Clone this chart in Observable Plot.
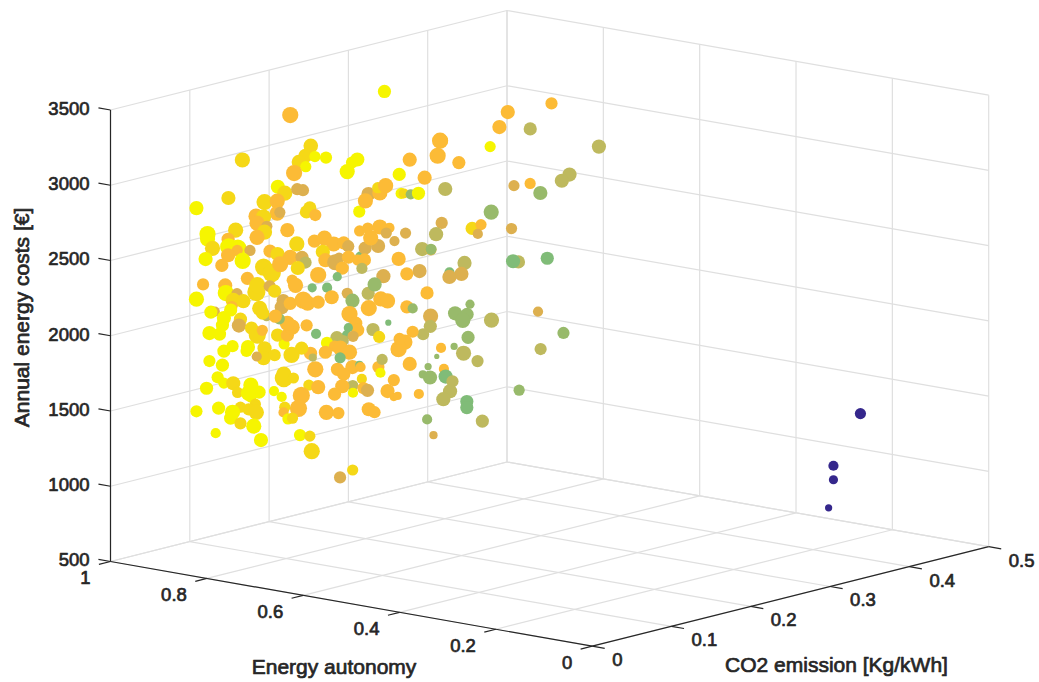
<!DOCTYPE html>
<html><head><meta charset="utf-8">
<script src="https://cdn.jsdelivr.net/npm/d3@7"></script>
<script src="https://cdn.jsdelivr.net/npm/@observablehq/plot@0.6"></script>
<style>html,body{margin:0;padding:0;background:#fff}svg{display:block}</style>
</head><body><div id="chart"></div>
<script>
const autonomyTicks=[0,0.2,0.4,0.6,0.8,1];
const co2Ticks=[0,0.1,0.2,0.3,0.4,0.5];
const costTicks=[500,1000,1500,2000,2500,3000,3500];
const toneColours=["#F6F500","#F5D817","#FCBB36","#DDB04F","#BEB95E","#98BA6B","#80BC78","#35278C"];
const autonomy=[
.777,.775,.825,.683,.694,.625,.602,.708,.644,.767,
.537,.548,.558,.450,.702,.737,.810,.798,.854,.871,
.779,.802,.802,.846,.846,.781,.844,.873,.779,.844,
.781,.685,.692,.723,.533,.662,.619,.589,.544,.577,
.446,.848,.848,.839,.887,.904,.804,.785,.885,.908,
.904,.852,.775,.917,.781,.764,.864,.956,.817,.752,
.775,.796,.712,.800,.842,.710,.725,.704,.685,.664,
.704,.658,.702,.731,.723,.667,.654,.827,.669,.642,
.635,.621,.725,.631,.614,.589,.569,.625,.608,.608,
.550,.717,.875,.771,.631,.910,.810,.871,.935,.844,
.823,.796,.794,.867,.758,.839,.842,.775,.764,.927,
.896,.748,.739,.717,.689,.706,.712,.748,.794,.612,
.587,.573,.652,.639,.635,.852,.856,.702,.769,.541,
.694,.777,.764,.919,.600,.683,.702,.671,.652,.869,
.646,.677,.664,.829,.629,.592,.683,.489,.577,.744,
.623,.664,.667,.683,.546,.560,.573,.560,.552,.602,
.723,.733,.827,.702,.973,.723,.689,.752,.781,.771,
.781,.946,.741,.923,.806,.789,.783,.829,.931,.896,
.800,.981,.841,.814,.817,.844,.823,.806,.794,.833,
.796,.814,.764,.767,.779,.781,.758,.894,.844,.817,
.827,.814,.844,.850,.835,.758,.762,.741,.710,.694,
.758,.798,.829,.812,.796,.796,.800,.825,.871,.829,
.752,.831,.737,.739,.739,.719,.687,.717,.752,.758,
.737,.789,.681,.721,.700,.675,.612,.600,.656,.685,
.681,.596,.721,.491,.533,.669,.533,.583,.598,.521,
.581,.556,.565,.550,.456,.554,.583,.619,.462,.514,
.485,.537,.550,.548,.527,.637,.456,.648,.633,.650,
.537,.542,.556,.606,.606,.475,.639,.527,.448,.354,
.310,.508,.356,.529,.521,.489,.425,.360,.233,.460,
.464,.469,.425,.527,.496,.552,.490,.673,.410,.294,
.310,.277,.360,.404,.506,.510,.585,.571,.348,.379,
.435,.365,.600,.483,.631,.400,.510,.439,.512,.642,
.469,.494,.556,.533,.184,.240,.240,.250];
const co2=[
.21,.09,.06,.06,.06,.03,.03,.06,.03,.09,
.03,.03,.03,.03,.03,.06,.12,.12,.06,.03,
.06,.09,.09,.12,.09,.06,.09,.12,.06,.09,
.09,.06,.06,.09,.03,.12,.09,.09,.06,.09,
.03,.03,.03,.06,.06,.09,.03,.03,.09,.12,
.09,.03,.03,.09,.06,.06,.09,.09,.09,.06,
.09,.09,.06,.12,.15,.06,.09,.09,.09,.09,
.12,.06,.09,.12,.12,.09,.09,.21,.12,.12,
.09,.09,.15,.09,.09,.09,.09,.12,.09,.12,
.09,.09,.21,.09,.12,.09,.03,.03,.12,.06,
.06,.06,.06,.12,.06,.12,.12,.09,.09,.21,
.21,.09,.09,.09,.09,.12,.15,.18,.18,.09,
.09,.09,.09,.09,.09,.21,.21,.15,.21,.06,
.12,.15,.15,.21,.03,.09,.09,.09,.09,.21,
.09,.09,.09,.21,.09,.09,.15,.03,.06,.15,
.09,.12,.09,.09,.03,.09,.09,.09,.09,.12,
.09,.09,.15,.06,.21,.06,.03,.06,.09,.09,
.09,.18,.09,.15,.09,.06,.06,.06,.12,.09,
.03,.12,.03,.03,.03,.03,.03,.06,.06,.09,
.03,.03,.03,.03,.06,.06,.06,.12,.03,.03,
.03,.03,.06,.03,.06,.03,.03,.03,.03,.03,
.03,.06,.06,.06,.06,.03,.03,.03,.03,.06,
.03,.03,.03,.06,.06,.06,.06,.09,.09,.09,
.06,.09,.03,.06,.09,.09,.09,.09,.03,.06,
.06,.06,.12,.09,.09,.18,.12,.15,.15,.09,
.18,.18,.18,.18,.15,.18,.18,.18,.09,.15,
.15,.09,.09,.09,.09,.18,.09,.18,.18,.21,
.15,.15,.15,.21,.21,.15,.18,.12,.18,.15,
.12,.09,.18,.27,.21,.18,.18,.09,.15,.09,
.09,.09,.09,.09,.09,.15,.06,.18,.03,.15,
.15,.09,.12,.18,.18,.12,.12,.15,.06,.09,
.12,.12,.15,.09,.18,.15,.21,.21,.15,.21,
.12,.12,.12,.09,.45,.45,.45,.45];
const annualCost=[
3471,3474,3187,3361,3289,3362,3368,3240,3284,3093,
3392,3366,3300,3342,3118,3017,2922,2922,2918,2881,
2933,2887,2807,2748,2762,2833,2717,2640,2734,2623,
2706,2947,2917,2839,3048,2973,2992,3061,3161,3116,
3218,2722,2689,2713,2565,2576,2661,2664,2513,2460,
2470,2553,2584,2395,2500,2470,2339,2247,2546,2603,
2529,2471,2693,2475,2377,2534,2665,2697,2668,2687,
2603,2671,2551,2481,2513,2518,2598,2345,2610,2639,
2589,2598,2404,2785,2814,2835,2840,2735,2752,2691,
2645,2444,2185,2379,2445,2266,2351,2276,2158,2244,
2250,2326,2373,2245,2353,2166,2119,2223,2349,2082,
2100,2259,2244,2264,2312,2289,2245,2245,2111,2283,
2358,2353,2221,2168,2124,1859,1809,2011,1939,2171,
2010,1915,1903,1781,2138,1990,1939,1984,1968,1649,
1872,1840,1815,1626,1882,1903,1823,2002,1872,1615,
1745,1668,1733,1671,1837,1834,1754,1721,1733,1970,
1814,1915,1754,2006,1623,1949,2081,2065,2008,2067,
2087,1905,2096,1972,2120,2222,2193,2127,1948,2134,
2244,2012,2207,2183,2134,2066,2071,2080,2041,2011,
2006,1963,2018,1990,1962,1895,1928,1763,1880,1868,
1782,1750,1693,1696,1637,1769,1713,1731,1756,1726,
1689,1580,1542,1537,1527,1567,1525,1578,1531,1435,
1499,1408,1415,1812,1786,1798,1769,1699,1624,1535,
1594,1490,1587,1530,1541,1550,1611,1598,1494,1431,
1333,1256,1057,2452,2336,2130,2235,2099,2038,2177,
2147,2154,2109,2225,2212,2002,1926,1839,2103,1959,
1923,2100,2046,2114,1960,1762,1967,1703,1691,1648,
1760,1691,1630,1507,1467,1530,1409,1447,1711,2077,
2390,1771,2143,3452,3478,3436,3460,3498,3490,3481,
3479,3376,3355,3317,3215,3029,3153,2886,3239,3270,
3220,3300,3199,3046,2862,2867,2757,2718,3001,2969,
2836,2911,2603,2743,2544,2630,2493,2553,2560,2345,
2551,2517,2521,2555,1347,969,876,684];
const magnitude=[
6,7.5,7,6.7,6.5,5,5.5,6.5,5,7.5,
6.5,5.5,7,6,6.5,7,5.5,5.5,6.5,6.5,
7.5,7,7,5,7,7,7,5,7,7,
6.5,6,6,5.5,5.5,6.5,7,7,5,7,
5,7.5,7,7,7,6,8,8,5,5,
6.5,6.5,7.5,6,8,8.5,6,5.5,6,6.5,
7,7.5,7,6,5.5,6.5,6,7,7,6,
5.5,6.5,6.5,7.5,5,6,6,4.5,6,6.5,
5,6,5,5,5,7,4.5,5,7,4.5,
6.5,7.5,4,5,6.5,6.5,7.5,7,5,7,
6.5,8.5,7.5,5.5,6,6,6.5,6,7,4,
4.5,8,7,6,6.5,5,6,6.5,6.5,7.5,
7,7,7.5,6,6,4,4,6,2.5,5.5,
5,6,5,4.5,5.5,5,6,7,7,5,
6.5,6,6,3.5,4.5,5.5,5,4.5,4.5,5,
5.5,6,6.5,6,4.5,5.5,6.5,3.5,3.5,6,
7.5,6,3.5,6,4,7.5,5,6,6,7,
7,5,5.5,4,6,7,6,6,6.5,5,
6,4.5,6,6.5,6,6.5,6,6,8,5,
5.5,6,6.5,5.5,6.5,6.5,5.5,4.5,5.5,6,
5.5,5,6.5,6,5,7,7.5,6,4.5,4.5,
5,5,5,5.5,7,7,6,6,5.5,5.5,
7,4.5,6.5,7,8.5,5,5,6.5,8,8,
5,4.5,5,5,7,5.5,6.5,5.5,5.5,5,
7.5,5,5.5,6,6,4.5,7,6,5.5,5.5,
6.5,6,7,4,7,6,3,2,4.5,7,
5.5,7,7.5,5.5,6.5,3,4.5,3.5,6.5,6.5,
5.5,6.5,6.5,6,6,6,4.5,3.5,5,5.5,
4.5,4.5,5.5,5.5,6.5,6.5,6,5,6.5,5.5,
7.5,7.5,6,6.5,6.5,6.5,4.5,4.5,6,6.5,
6.5,5,5,6.5,7,5.5,5,6.5,6,5,
4.5,5,6.5,5,5,6,6.5,6,6.5,4.5,
6.5,6.5,6.5,6,5,4.5,4,3];
const tone=[
1,3,2,2,2,1,1,2,1,3,
1,1,1,1,1,2,4,4,2,1,
2,3,3,4,3,2,3,4,2,3,
3,2,2,3,1,4,3,3,2,3,
1,1,1,2,2,3,1,1,3,4,
3,1,1,3,2,2,3,3,3,2,
3,3,2,4,5,2,3,3,3,3,
4,2,3,4,4,3,3,7,4,4,
3,3,5,3,3,3,3,4,3,4,
3,3,7,3,4,3,1,1,4,2,
2,2,2,4,2,4,4,3,3,7,
7,3,3,3,3,4,5,6,6,3,
3,3,3,3,3,7,7,5,7,2,
4,5,5,7,1,3,3,3,3,7,
3,3,3,7,3,3,5,1,2,5,
3,4,3,3,1,3,3,3,3,4,
3,3,5,2,7,2,1,2,3,3,
3,6,3,5,3,2,2,2,4,3,
1,4,1,1,1,1,1,2,2,3,
1,1,1,1,2,2,2,4,1,1,
1,1,2,1,2,1,1,1,1,1,
1,2,2,2,2,1,1,1,1,2,
1,1,1,2,2,2,2,3,3,3,
2,3,1,2,3,3,3,3,1,2,
2,2,4,3,3,6,4,5,5,3,
6,6,6,6,5,6,6,6,3,5,
5,3,3,3,3,6,3,6,6,7,
5,5,5,7,7,5,6,4,6,5,
4,3,6,3,3,3,5,1,5,2,
3,3,3,3,3,5,2,6,1,5,
5,3,4,6,6,4,4,5,2,3,
4,4,5,3,6,5,7,7,5,7,
4,4,4,3,8,8,8,8];

// Orthographic view of the 3-D axes box, used as the plane for Plot's x and y scales.
const viewX=(a,c)=>591.7-481.7*a+793*c;
const viewY=(a,c,e)=>645.7-84.7*a-199*c-0.1505*(e-500);
const P=(a,c,e)=>({x:viewX(a,c),y:viewY(a,c,e)});
const seg=(p,q)=>({x1:p.x,y1:p.y,x2:q.x,y2:q.y});

const grid=[];
for(const c of co2Ticks){
  grid.push(seg(P(1,c,500),P(1,c,3500)));
  grid.push(seg(P(1,c,500),P(0,c,500)));
}
for(const a of autonomyTicks){
  grid.push(seg(P(a,0.5,500),P(a,0.5,3500)));
  grid.push(seg(P(a,0,500),P(a,0.5,500)));
}
for(const e of costTicks){
  grid.push(seg(P(1,0,e),P(1,0.5,e)));
  grid.push(seg(P(1,0.5,e),P(0,0.5,e)));
}
const axes=[
  seg(P(1,0,500),P(1,0,3500)),
  seg(P(1,0,500),P(0,0,500)),
  seg(P(0,0,500),P(0,0.5,500)),
  ...costTicks.map(e=>seg(P(1,0,e),P(1.025,0,e))),
  ...autonomyTicks.map(a=>seg(P(a,0,500),P(a,-0.0146,500))),
  ...co2Ticks.map(c=>seg(P(0,c,500),P(-0.026,c,500))),
];
const pts=autonomy.map((a,i)=>({...P(a,co2[i],annualCost[i]),m:magnitude[i],t:tone[i]}));

const font={fontFamily:"'Liberation Sans',Arial,sans-serif",fill:"#262626",stroke:"#262626",strokeWidth:0.7};
const tickFont={...font,fontSize:18.5};
const labelFont={...font,fontSize:21};

const costLabels=costTicks.map(e=>({...P(1,0,e),s:String(e)}));
const autoLabels=autonomyTicks.map(a=>({...P(a,0,500),s:String(a)}));
const co2Labels=co2Ticks.map(c=>({...P(0,c,500),s:String(c)}));

const chart=Plot.plot({
  width:1039,height:682,
  marginLeft:0,marginRight:0,marginTop:0,marginBottom:0,
  style:{background:"#fff"},
  x:{domain:[0,1039],range:[0,1039],axis:null},
  y:{domain:[0,682],range:[0,682],axis:null},
  r:{type:"linear",domain:[0,10],range:[0.6,10.6]},
  color:{type:"ordinal",domain:[1,2,3,4,5,6,7,8],range:toneColours},
  marks:[
    Plot.link(grid,{x1:"x1",y1:"y1",x2:"x2",y2:"y2",stroke:"#DFDFDF",strokeWidth:1.2}),
    Plot.link(axes,{x1:"x1",y1:"y1",x2:"x2",y2:"y2",stroke:"#262626",strokeWidth:1.2}),
    Plot.dot(pts,{x:"x",y:"y",r:"m",fill:"t",sort:null}),
    Plot.text(costLabels,{x:"x",y:"y",text:"s",textAnchor:"end",dx:-21,dy:-1,...tickFont}),
    Plot.text(autoLabels,{x:"x",y:"y",text:"s",textAnchor:"end",dx:-20,dy:17,...tickFont}),
    Plot.text(co2Labels,{x:"x",y:"y",text:"s",textAnchor:"start",dx:20,dy:14,...tickFont}),
    Plot.text(["Energy autonomy"],{x:()=>333.5,y:()=>667,text:d=>d,...labelFont}),
    Plot.text(["CO2 emission [Kg/kWh]"],{x:()=>836,y:()=>665,text:d=>d,...labelFont}),
    Plot.text(["Annual energy costs [€]"],{x:()=>22,y:()=>317,text:d=>d,rotate:-90,...labelFont})
  ]
});
document.getElementById("chart").append(chart);
</script></body></html>
